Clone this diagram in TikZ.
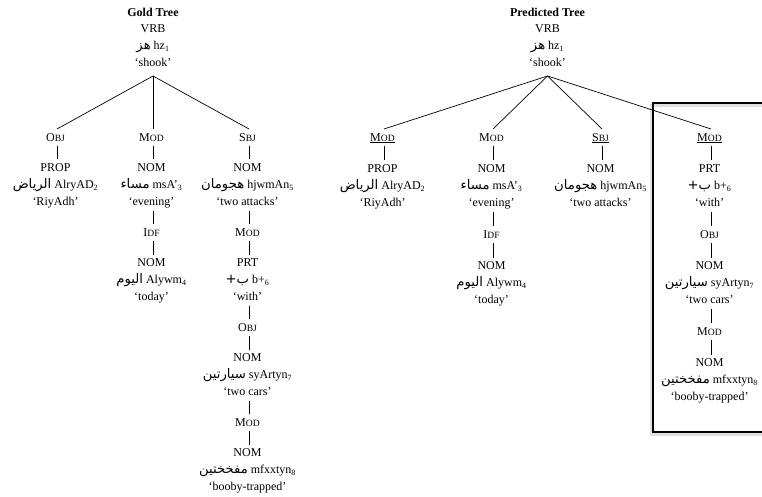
\documentclass[tikz,border=0pt]{standalone}
\usepackage{fontspec}
\setmainfont{Liberation Serif}
\newfontfamily\arabicfont[Script=Arabic,Scale=1.1]{DejaVu Sans}
\TeXXeTstate=1
\usepackage{tikz}
\usetikzlibrary{matrix,positioning,calc}

% arabic word, kept out of the line height
\newcommand\ar[1]{\smash{{\arabicfont\beginR #1\endR}}}
% relation label in small caps
\newcommand\rel[2]{\strut#1{\fontsize{9.6}{17}\selectfont#2}}
\newcommand\urel[2]{\strut\underline{#1{\fontsize{9.6}{17}\selectfont#2}}}
% tag, arabic, transliteration, index, gloss
\newcommand\wrd[5]{\begin{tabular}{@{}c@{}}#1\\\ar{#2}~#3\textsubscript{#4}\\`#5'\end{tabular}}

\tikzset{
  tree/.style={inner sep=0pt, align=center, font=\fontsize{12}{17}\selectfont},
  treetitle/.style={inner sep=0pt, font=\fontsize{12}{17}\selectfont\bfseries},
  branch/.style={line width=0.7pt},
  frame/.style={line width=1.4pt}
}

\begin{document}
\begin{tikzpicture}[x=1pt,y=-1pt]
  \useasboundingbox (0,0) rectangle (762,497);

  % box round the wrong attachment
  \draw[line width=3pt, black!12] (651,106) rectangle (790,434);
  \draw[frame] (653,103) rectangle (790,432);

  \matrix (g) [matrix of nodes, nodes={tree}, row sep=13.5pt,
    column sep={96pt,between origins}, matrix anchor=g-1-2.north] at (153,129)
  {
\rel{O}{BJ} & \rel{M}{OD} & \rel{S}{BJ} \\
\wrd{PROP}{الرياض}{AlryAD}{2}{RiyAdh} & \wrd{NOM}{مساء}{msA'}{3}{evening} & \wrd{NOM}{هجومان}{hjwmAn}{5}{two attacks} \\
 & \rel{I}{DF} & \rel{M}{OD} \\
 & \wrd{NOM}{اليوم}{Alywm}{4}{today} & \wrd{PRT}{ب+}{b+}{6}{with} \\
 & & \rel{O}{BJ} \\
 & & \wrd{NOM}{سيارتين}{syArtyn}{7}{two cars} \\
 & & \rel{M}{OD} \\
 & & \wrd{NOM}{مفخختين}{mfxxtyn}{8}{booby-trapped} \\
  };
  \node[tree, above=57pt of g-1-2] (g-root) {\wrd{VRB}{هز}{hz}{1}{shook}};
  \node[treetitle, above=-1pt of g-root] (g-title) {\strut Gold Tree};
  \coordinate (g-fork) at ([yshift=-4pt]g-root.south);

  \path[branch]
  (g-fork) edge (g-1-1.north)
           edge (g-1-2.north)
           edge (g-1-3.north)
  (g-1-1) edge (g-2-1)
  (g-1-2) edge (g-2-2)
  (g-2-2) edge (g-3-2)
  (g-3-2) edge (g-4-2)
  (g-1-3) edge (g-2-3)
  (g-2-3) edge (g-3-3)
  (g-3-3) edge (g-4-3)
  (g-4-3) edge (g-5-3)
  (g-5-3) edge (g-6-3)
  (g-6-3) edge (g-7-3)
  (g-7-3) edge (g-8-3)
  ;

  \matrix (p) [matrix of nodes, nodes={tree}, row sep=14.5pt,
    column sep={109pt,between origins}, matrix anchor=p-1-2.north] at (493,129)
  {
\urel{M}{OD} & \rel{M}{OD} & \urel{S}{BJ} & \urel{M}{OD} \\
\wrd{PROP}{الرياض}{AlryAD}{2}{RiyAdh} & \wrd{NOM}{مساء}{msA'}{3}{evening} & \wrd{NOM}{هجومان}{hjwmAn}{5}{two attacks} & \wrd{PRT}{ب+}{b+}{6}{with} \\
 & \rel{I}{DF} & & \rel{O}{BJ} \\
 & \wrd{NOM}{اليوم}{Alywm}{4}{today} & & \wrd{NOM}{سيارتين}{syArtyn}{7}{two cars} \\
 & & & \rel{M}{OD} \\
 & & & \wrd{NOM}{مفخختين}{mfxxtyn}{8}{booby-trapped} \\
  };
  \coordinate (p-mid) at ($(p-1-2.north)!0.5!(p-1-3.north)$);
  \node[tree, above=57pt of p-mid] (p-root) {\wrd{VRB}{هز}{hz}{1}{shook}};
  \node[treetitle, above=-1pt of p-root] (p-title) {\strut Predicted Tree};
  \coordinate (p-fork) at ([yshift=-4pt]p-root.south);

  \path[branch]
  (p-fork) edge (p-1-1.north)
           edge (p-1-2.north)
           edge (p-1-3.north)
           edge (p-1-4.north)
  (p-1-1) edge (p-2-1)
  (p-1-2) edge (p-2-2)
  (p-2-2) edge (p-3-2)
  (p-3-2) edge (p-4-2)
  (p-1-3) edge (p-2-3)
  (p-1-4) edge (p-2-4)
  (p-2-4) edge (p-3-4)
  (p-3-4) edge (p-4-4)
  (p-4-4) edge (p-5-4)
  (p-5-4) edge (p-6-4)
  ;
\end{tikzpicture}
\end{document}
